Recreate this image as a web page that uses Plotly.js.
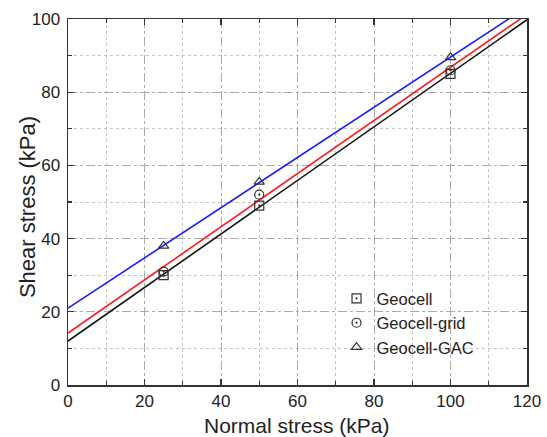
<!DOCTYPE html>
<html>
<head>
<meta charset="utf-8">
<script src="https://cdn.plot.ly/plotly-3.0.1.min.js"></script>
<style>html,body{margin:0;padding:0;background:#fff;}#chart{width:547px;height:437px;}</style>
</head>
<body>
<div id="chart"></div>
<script>
// Data
const normalStress = [25, 50, 100];
const geocell = [30, 49, 85];
const geocellGrid = [31, 52, 86];
const geocellGAC = [38, 55.5, 89.5];
// Fitted failure-envelope lines (endpoints)
const fitX = [0, 120];
const fitGeocell = [12.0, 99.8];
const fitGrid = [14.2, 101.3];
const fitGAC = [21.0, 103.3];
const seriesNames = ['Geocell', 'Geocell-grid', 'Geocell-GAC'];
const xTitle = 'Normal stress (kPa)';
const yTitle = 'Shear stress (kPa)';

const FONT = 'Liberation Sans, Arial, sans-serif';
const mk = (sym) => ({symbol: sym, size: 9, color: '#333', line: {color: '#333', width: 1.2}});
const traces = [
  {x: fitX, y: fitGeocell, mode: 'lines', line: {color: '#111', width: 1.6}, showlegend: false, hoverinfo: 'skip'},
  {x: fitX, y: fitGrid, mode: 'lines', line: {color: '#ff1a1a', width: 1.6}, showlegend: false, hoverinfo: 'skip'},
  {x: fitX, y: fitGAC, mode: 'lines', line: {color: '#1a1aff', width: 1.6}, showlegend: false, hoverinfo: 'skip'},
  {x: normalStress, y: geocell, mode: 'markers', name: seriesNames[0], marker: mk('square-open-dot')},
  {x: normalStress, y: geocellGrid, mode: 'markers', name: seriesNames[1], marker: mk('circle-open-dot')},
  {x: normalStress, y: geocellGAC, mode: 'markers', name: seriesNames[2], marker: mk('triangle-up-open')}
];

const axisCommon = {
  showline: true, linecolor: '#333', linewidth: 1.5, mirror: 'allticks',
  ticks: 'inside', ticklen: 6, tickwidth: 1.2, tickcolor: '#333',
  showgrid: true, gridcolor: '#aaa', gridwidth: 1, griddash: 'dashdot',
  zeroline: false, automargin: false,
  tickfont: {family: FONT, size: 17, color: '#222'},
  minor: {dtick: 10, ticks: 'inside', ticklen: 4, tickcolor: '#333', showgrid: true, gridcolor: '#c4c4c4', griddash: 'dot', gridwidth: 1}
};

const layout = {
  width: 547, height: 437,
  margin: {l: 67.5, r: 19.5, t: 19, b: 52, pad: 0},
  paper_bgcolor: '#fff', plot_bgcolor: '#fff',
  xaxis: Object.assign({}, axisCommon, {range: [0, 120], dtick: 20, tick0: 0}),
  yaxis: Object.assign({}, axisCommon, {
    range: [0, 100], dtick: 20, tick0: 0,
    ticklabelstandoff: 3,
    minor: Object.assign({}, axisCommon.minor)
  }),
  annotations: [
    {text: xTitle, xref: 'paper', yref: 'paper', x: 0.499, y: -0.112, xanchor: 'center', yanchor: 'middle',
     showarrow: false, font: {family: FONT, size: 21, color: '#222'}},
    {text: yTitle, xref: 'paper', yref: 'paper', x: -0.088, y: 0.485, xanchor: 'center', yanchor: 'middle',
     textangle: -90, showarrow: false, font: {family: FONT, size: 22, color: '#222'}}
  ],
  showlegend: true,
  legend: {
    x: 0.585, y: 0.284, xanchor: 'left', yanchor: 'top',
    bgcolor: 'rgba(0,0,0,0)', borderwidth: 0,
    font: {family: FONT, size: 16.5, color: '#222'},
    tracegroupgap: 0
  }
};

Plotly.newPlot('chart', traces, layout, {displayModeBar: false, staticPlot: true});
</script>
</body>
</html>
